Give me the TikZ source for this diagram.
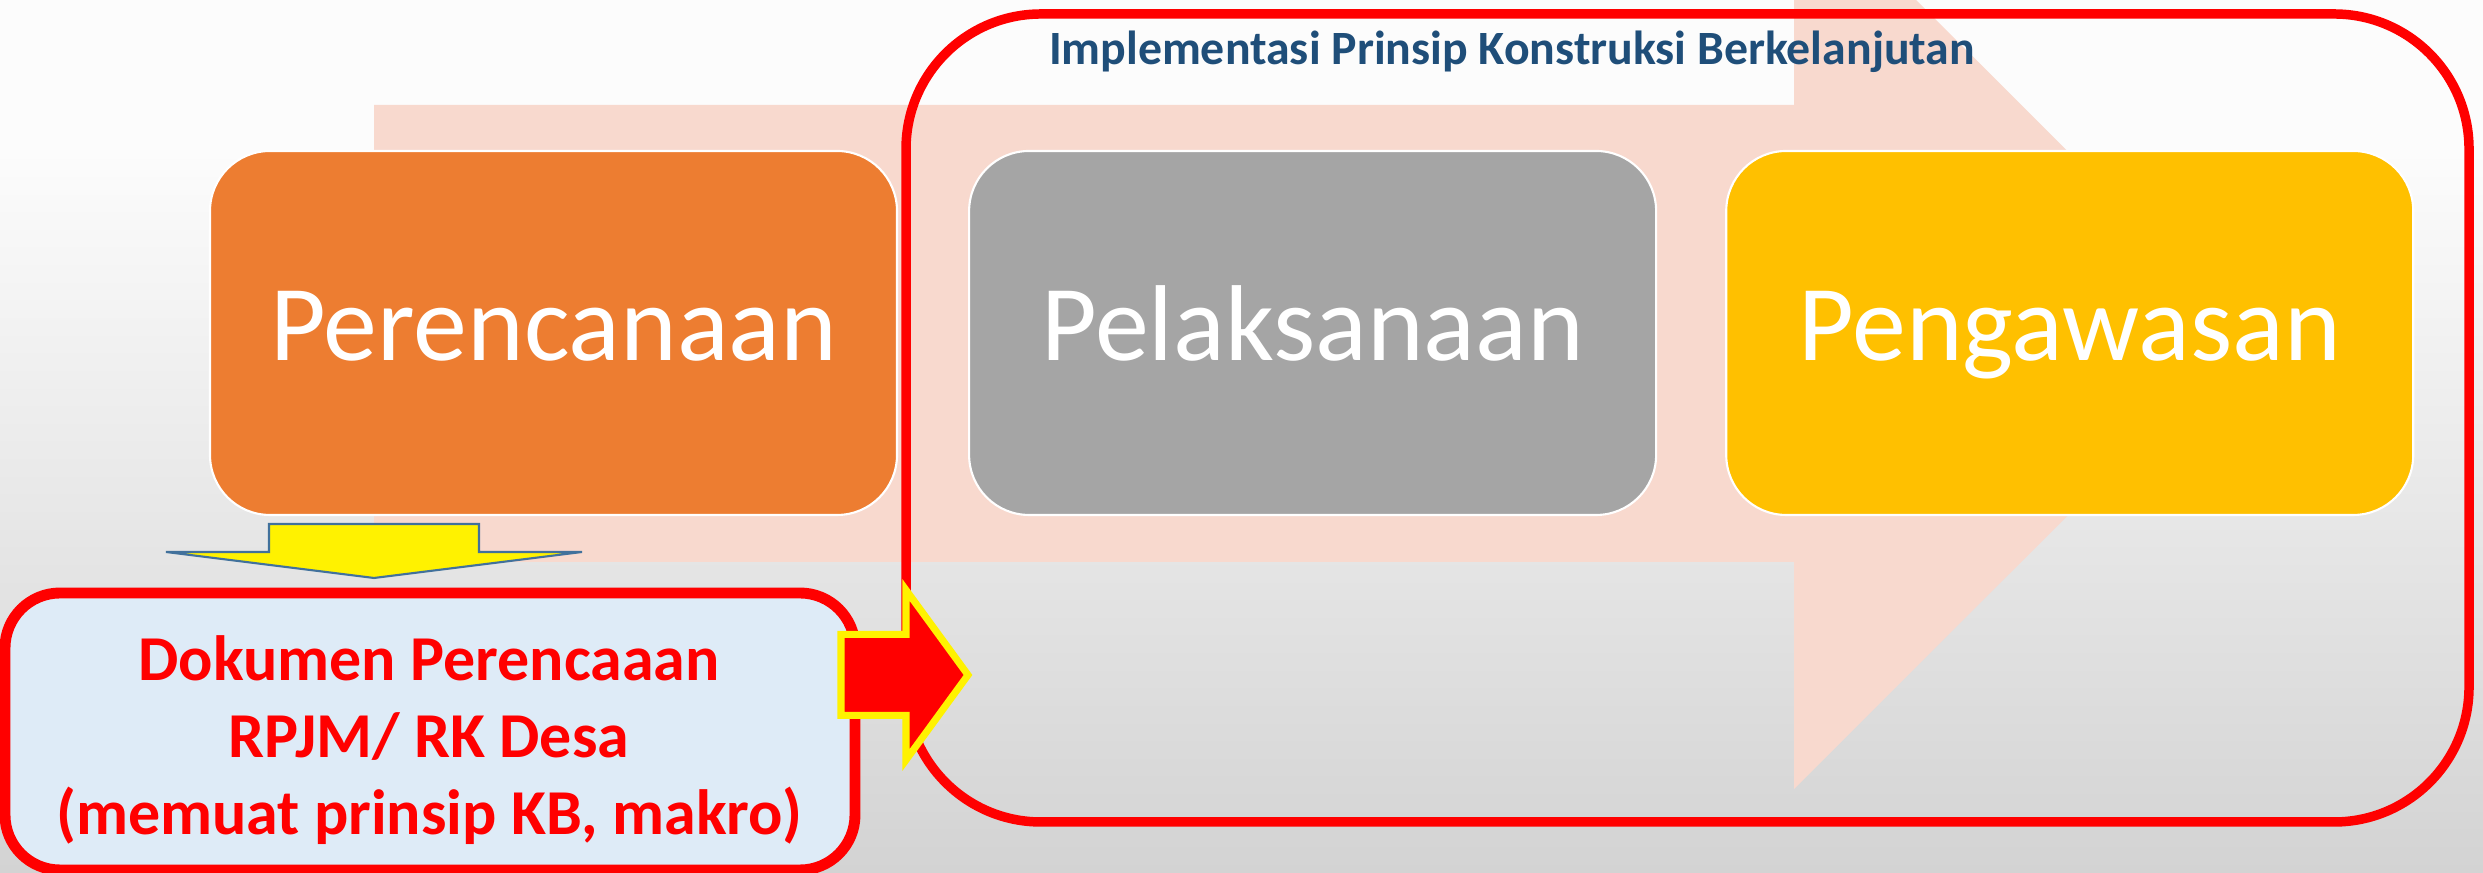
\documentclass[tikz,border=0pt]{standalone}
\usepackage{fontspec}
\setmainfont{Carlito}
\usepackage{xcolor}
\usetikzlibrary{positioning}

\definecolor{bgtop}{HTML}{FCFCFC}
\definecolor{bgbottom}{HTML}{D3D3D3}
\definecolor{flowpink}{HTML}{F8D9CE}
\definecolor{planorange}{HTML}{ED7D31}
\definecolor{execgrey}{HTML}{A5A5A5}
\definecolor{supgold}{HTML}{FFC000}
\definecolor{titleblue}{HTML}{1F4E79}
\definecolor{docblue}{HTML}{DEEBF7}
\definecolor{arrowedge}{HTML}{41719C}

\begin{document}
\begin{tikzpicture}[auto, node distance=0.7cm,
        block/.style={draw=white, line width=0.6pt, rectangle, rounded corners=0.6cm, minimum width=6.87cm, minimum height=3.64cm, text height=0.78cm, text depth=0.22cm, text=white, font=\fontsize{30.7}{36}\selectfont},
        implbox/.style={draw=red, line width=2.7pt, rectangle, rounded corners=1.35cm, minimum width=15.63cm, minimum height=8.08cm},
        docbox/.style={draw=red, line width=3.1pt, fill=docblue, rectangle, rounded corners=0.55cm, minimum width=8.5cm, minimum height=2.77cm},
        doctext/.style={align=center, text=red, font=\fontsize{18.2}{22}\selectfont\bfseries},
        heading/.style={text=titleblue, font=\fontsize{13.6}{16}\selectfont\bfseries}
    ]
        \useasboundingbox (0,0) rectangle (24.83,8.73);
        \clip (0,0) rectangle (24.83,8.73);
        \fill [bgtop] (0,0) rectangle (24.83,8.73);
        \shade [top color=bgtop, bottom color=bgbottom] (0,0) rectangle (24.83,7.23);

        % big flow arrow behind
        \fill [flowpink] (3.74,7.68) -- (17.94,7.68) -- (17.94,9.95) -- (22.50,5.395)
            -- (17.94,0.84) -- (17.94,3.11) -- (3.74,3.11) -- cycle;

        \node [implbox] (impl) at (16.875,4.55) {};
        \node [heading] (ttl) at (15.12,8.21) {Implementasi Prinsip Konstruksi Berkelanjutan};

        \node [block, fill=planorange] (plan) at (5.535,5.40) {Perencanaan};
        \node [block, fill=execgrey, right=0.70cm of plan] (exec) {Pelaksanaan};
        \node [block, fill=supgold, right=0.68cm of exec] (sup) {Pengawasan};

        \draw [arrowedge, fill=yellow, line width=0.6pt] (2.69,3.49) -- (4.79,3.49) -- (4.79,3.21)
            -- (5.82,3.21) -- (3.74,2.95) -- (1.66,3.21) -- (2.69,3.21) -- cycle;

        \node [docbox] (doc) at (4.30,1.415) {};
        \node [doctext] (doclbl) at (4.29,1.33) {Dokumen Perencaaan\\RPJM/ RK Desa\\(memuat prinsip KB, makro)};

        \draw [yellow, fill=red, line width=2pt] (8.41,2.385) -- (9.06,2.385) -- (9.06,2.83)
            -- (9.68,1.98) -- (9.06,1.13) -- (9.06,1.575) -- (8.41,1.575) -- cycle;
    \end{tikzpicture}
\end{document}
